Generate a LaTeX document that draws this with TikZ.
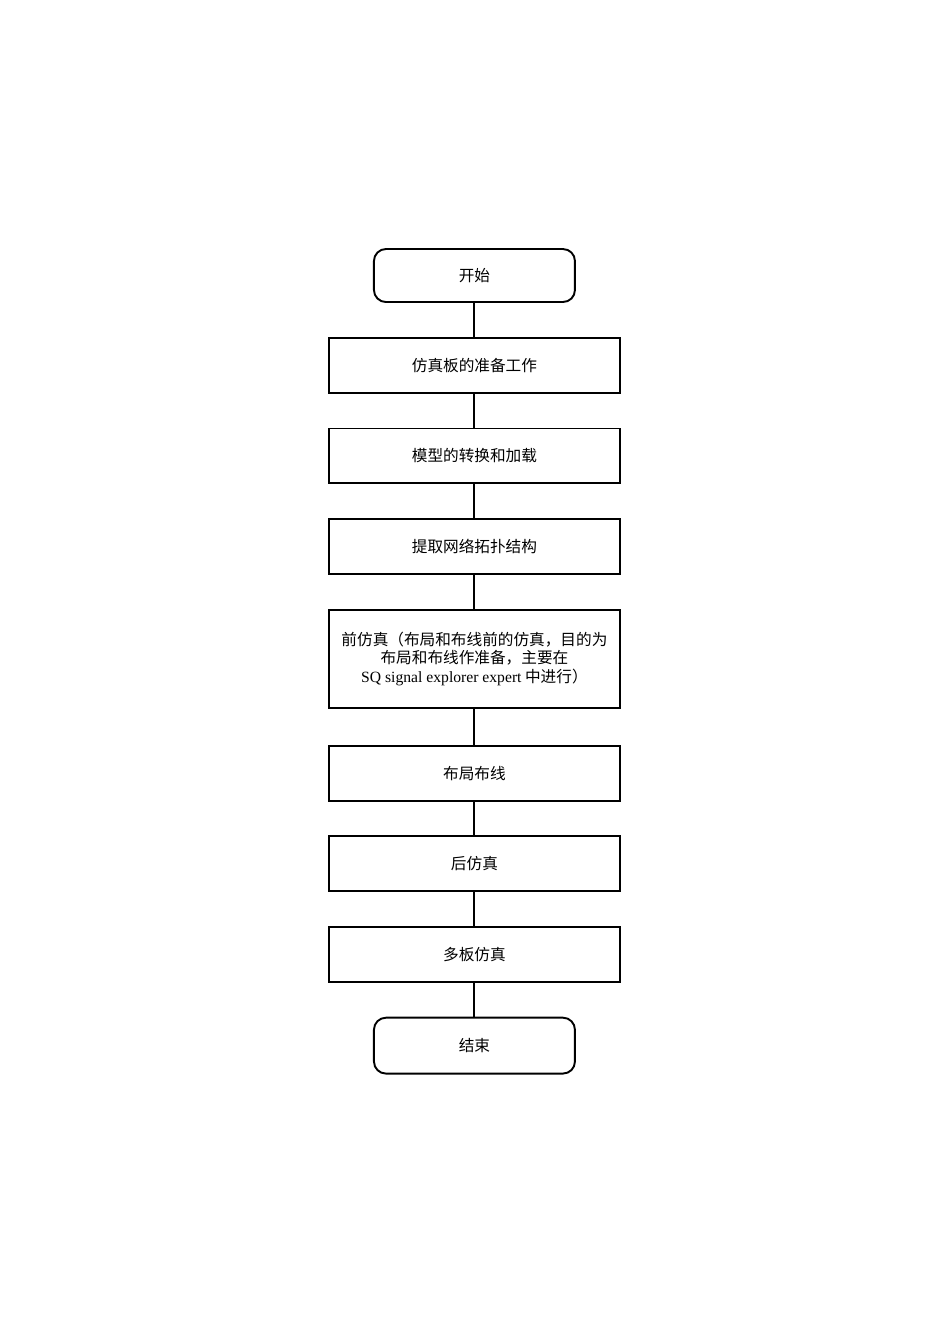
\documentclass[tikz,border=0pt]{standalone}
\usepackage{fontspec}
\setmainfont{Liberation Serif}
\newfontfamily\cjk{Noto Sans CJK SC}
\usetikzlibrary{positioning}
\definecolor{lineColor}{RGB}{0, 0, 0}
\tikzset{
    flow_term/.style={
        rectangle,
        rounded corners=7.5pt,
        line width=1.2pt,
        draw=lineColor,
        minimum width=125.9pt,
        minimum height=33.2pt,
        font=\cjk\fontsize{9.8}{11.6}\selectfont
    },
    flow_box/.style={
        rectangle,
        line width=1.2pt,
        draw=lineColor,
        minimum width=182.3pt,
        minimum height=34.4pt,
        align=center,
        font=\cjk\fontsize{9.8}{11.6}\selectfont
    },
    flow_line/.style={
        line width=1.2pt,
        draw=lineColor
    }
}
\begin{document}
\begin{tikzpicture}[node distance=21.2pt]
    \useasboundingbox (-297.2pt,172.6pt) rectangle (297.9pt,-669.3pt);
    \node[flow_term] (start) {开始};
    \node[flow_box, below=of start] (prep) {仿真板的准备工作};
    \node[flow_box, below=of prep] (model) {模型的转换和加载};
    \node[flow_box, below=of model] (topo) {提取网络拓扑结构};
    \node[flow_box, below=of topo, minimum height=61.4pt] (presim)
        {前仿真（布局和布线前的仿真，目的为\\
         布局和布线作准备，主要在\\
         {\rmfamily SQ signal explorer expert} 中进行）};
    \node[flow_box, below=22.5pt of presim] (route) {布局布线};
    \node[flow_box, below=of route] (postsim) {后仿真};
    \node[flow_box, below=of postsim] (multi) {多板仿真};
    \node[flow_term, below=of multi, minimum height=35pt] (finish) {结束};

    \draw[flow_line] (start) -- (prep);
    \draw[flow_line] (prep) -- (model);
    \draw[flow_line] (model) -- (topo);
    \draw[flow_line] (topo) -- (presim);
    \draw[flow_line] (presim) -- (route);
    \draw[flow_line] (route) -- (postsim);
    \draw[flow_line] (postsim) -- (multi);
    \draw[flow_line] (multi) -- (finish);
\end{tikzpicture}
\end{document}
